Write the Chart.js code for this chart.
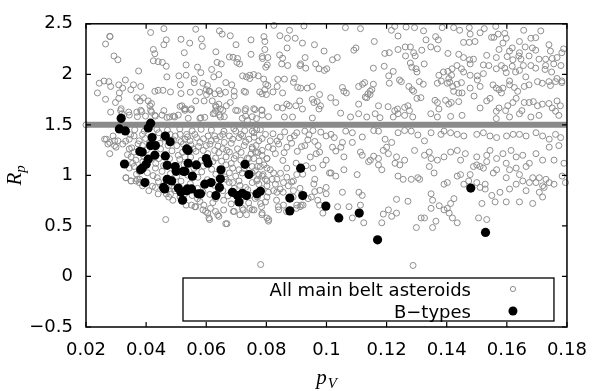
<!DOCTYPE html>
<html>
<head>
<meta charset="utf-8">
<script src="https://cdn.jsdelivr.net/npm/chart.js@4.4.0/dist/chart.umd.min.js"></script>
<style>
html,body{margin:0;padding:0;background:#fff;}
canvas{display:block;}
</style>
</head>
<body>
<canvas id="c" width="600" height="391"></canvas>
<script>
// ---- data (pV, Rp) ----
const xTicks = [0.02, 0.04, 0.06, 0.08, 0.10, 0.12, 0.14, 0.16, 0.18];
const xTickLabels = ['0.02','0.04','0.06','0.08','0.1','0.12','0.14','0.16','0.18'];
const yTicks = [-0.5, 0, 0.5, 1, 1.5, 2, 2.5];
const yTickLabels = ['\u22120.5','0','0.5','1','1.5','2','2.5'];
const legendLabels = ['All main belt asteroids', 'B\u2212types'];
const xTitle = ['p', 'V'];
const yTitle = ['R', 'p'];

// the dense row of main-belt asteroids sitting at Rp = 1.5
const bandRp = 1.5;
const bandPV = [0.02, 0.18];

const allAsteroids = [
[0.0415,2.414],[0.0459,2.452],[0.0565,2.446],[0.0644,2.43],[0.0653,2.398],[0.068,2.382],[0.0825,2.484],[0.0877,2.436],[0.0925,2.478],[0.028,2.373],[0.0265,2.30],[0.0467,2.341],[0.0459,2.293],[0.0516,2.347],[0.0545,2.309],[0.0584,2.35],[0.0699,2.293],[0.0749,2.341],[0.0792,2.373],[0.0795,2.325],[0.0845,2.382],[0.087,2.357],[0.0896,2.357],[0.092,2.309],[0.096,2.293],[0.0992,2.23],[0.0869,2.261],[0.0424,2.246],[0.0429,2.204],[0.0527,2.214],[0.0587,2.277],[0.0632,2.223],[0.0677,2.172],[0.0689,2.169],[0.0704,2.157],[0.0749,2.198],[0.0786,2.176],[0.0795,2.246],[0.0805,2.166],[0.0844,2.192],[0.0854,2.16],[0.0929,2.166],[0.0914,2.103],[0.0993,2.039],[0.0293,2.182],[0.0306,2.144],[0.0424,2.134],[0.044,2.125],[0.0454,2.118],[0.0467,2.08],[0.0533,2.093],[0.0571,2.071],[0.0582,2.017],[0.0618,2.048],[0.0636,2.118],[0.065,2.103],[0.0642,1.998],[0.0702,2.118],[0.0711,2.103],[0.0787,2.157],[0.0798,2.071],[0.0803,2.093],[0.0851,2.103],[0.0871,2.087],[0.0912,2.087],[0.0931,2.061],[0.0964,2.103],[0.0975,2.055],[0.0375,2.033],[0.0469,1.975],[0.0509,1.985],[0.0533,1.991],[0.056,1.953],[0.056,1.918],[0.0589,1.912],[0.0604,1.889],[0.06,1.848],[0.0609,1.832],[0.0625,1.975],[0.0665,1.918],[0.0685,1.896],[0.0693,1.832],[0.0721,1.985],[0.0734,1.975],[0.0745,1.991],[0.0758,1.998],[0.0773,1.985],[0.0745,1.959],[0.0791,1.953],[0.0798,1.902],[0.0805,1.889],[0.0838,1.95],[0.086,1.953],[0.0893,1.959],[0.089,1.921],[0.0914,1.864],[0.0936,1.864],[0.0953,1.88],[0.0977,1.80],[0.0244,1.912],[0.0238,1.816],[0.026,1.934],[0.0276,1.928],[0.0282,1.88],[0.0309,1.896],[0.0322,1.864],[0.0311,1.816],[0.0331,1.944],[0.0349,1.848],[0.0358,1.896],[0.0382,1.88],[0.0391,1.769],[0.0429,1.832],[0.044,1.842],[0.0456,1.842],[0.0481,1.826],[0.0514,1.896],[0.0516,1.81],[0.0547,1.823],[0.0578,1.823],[0.0601,1.80],[0.0612,1.832],[0.0629,1.807],[0.0642,1.839],[0.0647,1.807],[0.0664,1.823],[0.068,1.721],[0.0693,1.785],[0.0726,1.832],[0.0731,1.823],[0.0778,1.826],[0.0786,1.807],[0.0795,1.848],[0.08,1.80],[0.0822,1.826],[0.0836,1.88],[0.0854,1.816],[0.0904,1.87],[0.0868,1.705],[0.0898,1.689],[0.0911,1.737],[0.0953,1.753],[0.0958,1.721],[0.0969,1.73],[0.0975,1.657],[0.098,1.689],[0.0265,1.753],[0.0298,1.721],[0.0309,1.762],[0.0369,1.769],[0.038,1.737],[0.0407,1.737],[0.0413,1.689],[0.0418,1.711],[0.0459,1.641],[0.0519,1.689],[0.0527,1.657],[0.0549,1.648],[0.0565,1.737],[0.0593,1.737],[0.062,1.737],[0.0631,1.689],[0.0631,1.641],[0.0642,1.705],[0.0647,1.657],[0.0667,1.689],[0.0704,1.641],[0.0729,1.641],[0.0762,1.651],[0.0784,1.648],[0.0836,1.673],[0.0854,1.667],[0.0876,1.689],[0.092,1.657],[0.0282,1.626],[0.0315,1.641],[0.032,1.61],[0.0342,1.626],[0.0369,1.626],[0.0385,1.632],[0.0418,1.626],[0.0429,1.594],[0.0478,1.578],[0.0495,1.578],[0.0582,1.571],[0.0623,1.61],[0.0647,1.578],[0.0731,1.587],[0.0767,1.562],[0.086,1.578],[0.0887,1.578],[0.0953,1.568],
[0.1063,2.462],[0.1113,2.452],[0.1216,2.436],[0.1227,2.475],[0.1265,2.468],[0.1293,2.462],[0.1323,2.43],[0.1385,2.462],[0.1423,2.462],[0.1443,2.436],[0.1475,2.462],[0.1478,2.398],[0.1511,2.411],[0.1525,2.452],[0.1563,2.475],[0.1571,2.398],[0.1593,2.405],[0.1598,2.357],[0.1549,2.366],[0.1557,2.366],[0.1656,2.436],[0.1713,2.43],[0.168,2.357],[0.1696,2.363],[0.1642,2.325],[0.1661,2.271],[0.1685,2.261],[0.1159,2.325],[0.1238,2.379],[0.1331,2.341],[0.1363,2.373],[0.1372,2.341],[0.1347,2.271],[0.1369,2.252],[0.1456,2.316],[0.1475,2.316],[0.1494,2.325],[0.1587,2.309],[0.1574,2.246],[0.1609,2.23],[0.1618,2.261],[0.1642,2.214],[0.1696,2.239],[0.174,2.293],[0.1745,2.23],[0.1789,2.252],[0.102,2.144],[0.1036,2.166],[0.1091,2.239],[0.1098,2.261],[0.1194,2.207],[0.1209,2.214],[0.1238,2.246],[0.1262,2.271],[0.1279,2.271],[0.129,2.214],[0.1295,2.182],[0.1263,2.182],[0.1317,2.239],[0.1404,2.207],[0.144,2.198],[0.1456,2.166],[0.1476,2.144],[0.1489,2.15],[0.1533,2.188],[0.1565,2.166],[0.1601,2.176],[0.162,2.144],[0.164,2.182],[0.1647,2.15],[0.1674,2.182],[0.1707,2.15],[0.1729,2.15],[0.1751,2.157],[0.1767,2.166],[0.1783,2.214],[0.1001,2.055],[0.1156,2.061],[0.1192,2.08],[0.1222,2.029],[0.1207,1.985],[0.1279,2.112],[0.1284,2.071],[0.1298,2.055],[0.1301,2.023],[0.1243,1.944],[0.1325,2.103],[0.1374,1.991],[0.1389,2.023],[0.1404,2.029],[0.1407,1.959],[0.1416,1.991],[0.1418,2.055],[0.1434,2.087],[0.1449,2.055],[0.1478,2.103],[0.1456,2.023],[0.1478,1.991],[0.1502,1.985],[0.1522,2.093],[0.154,2.087],[0.1522,2.007],[0.1565,2.055],[0.1582,2.087],[0.1593,2.061],[0.1598,2.017],[0.1618,2.08],[0.1629,2.023],[0.1609,1.934],[0.1642,2.039],[0.1655,2.087],[0.168,2.087],[0.1696,2.061],[0.1663,1.975],[0.1729,2.087],[0.1727,2.048],[0.1749,2.023],[0.1756,2.103],[0.178,2.087],[0.1767,1.959],[0.1783,1.934],[0.1053,1.87],[0.1058,1.832],[0.1066,1.816],[0.1107,1.88],[0.112,1.902],[0.1127,1.918],[0.1156,1.902],[0.1151,1.848],[0.1145,1.832],[0.1138,1.807],[0.1129,1.775],[0.1209,1.912],[0.1249,1.928],[0.1274,1.88],[0.1285,1.848],[0.129,1.832],[0.1309,1.928],[0.1322,1.902],[0.1369,1.912],[0.1382,1.934],[0.1402,1.912],[0.141,1.921],[0.142,1.88],[0.1434,1.902],[0.1449,1.918],[0.1423,1.832],[0.144,1.816],[0.1451,1.816],[0.1478,1.864],[0.1502,1.944],[0.1511,1.88],[0.1554,1.896],[0.1565,1.864],[0.1574,1.848],[0.1587,1.864],[0.1582,1.816],[0.1609,1.896],[0.1625,1.87],[0.1636,1.832],[0.1658,1.88],[0.1674,1.896],[0.1702,1.928],[0.1718,1.912],[0.174,1.928],[0.1745,1.889],[0.1762,1.928],[0.1783,1.918],[0.1014,1.769],[0.1031,1.721],[0.1107,1.705],[0.1134,1.769],[0.1145,1.80],[0.1173,1.689],[0.1205,1.68],[0.1227,1.641],[0.1236,1.657],[0.126,1.673],[0.1271,1.689],[0.1276,1.641],[0.1301,1.762],[0.1314,1.769],[0.1361,1.743],[0.1369,1.721],[0.1374,1.657],[0.1396,1.743],[0.1407,1.705],[0.1415,1.721],[0.144,1.73],[0.1491,1.785],[0.1511,1.667],[0.1533,1.737],[0.1544,1.762],[0.1565,1.635],[0.1574,1.667],[0.1596,1.641],[0.1603,1.689],[0.162,1.721],[0.1631,1.762],[0.165,1.641],[0.1658,1.721],[0.1674,1.721],[0.1688,1.73],[0.1702,1.689],[0.1718,1.705],[0.174,1.711],[0.1751,1.667],[0.1767,1.737],[0.1778,1.689],[0.1762,1.635],[0.1047,1.616],[0.108,1.578],[0.1107,1.61],[0.1134,1.578],[0.1162,1.61],[0.1178,1.571],[0.1222,1.578],[0.1238,1.61],[0.126,1.594],[0.1287,1.578],[0.1347,1.61],[0.1369,1.578],[0.1413,1.584],[0.1451,1.594],[0.1565,1.562],[0.1609,1.578],[0.1642,1.61],[0.168,1.578],[0.1707,1.594],[0.1773,1.594],
[0.0759,1.422],[0.0846,1.38],[0.0879,1.368],[0.0901,1.422],[0.0928,1.438],[0.0955,1.444],[0.0999,1.39],[0.1015,1.406],[0.1026,1.374],[0.1053,1.326],[0.1064,1.438],[0.1086,1.422],[0.1119,1.38],[0.1157,1.444],[0.1173,1.438],[0.1195,1.358],[0.1217,1.326],[0.1238,1.422],[0.126,1.444],[0.1282,1.438],[0.1304,1.40],[0.1326,1.342],[0.1348,1.422],[0.1381,1.406],[0.1391,1.438],[0.1413,1.422],[0.1435,1.406],[0.1457,1.39],[0.15,1.406],[0.1522,1.422],[0.1544,1.39],[0.1566,1.374],[0.1599,1.39],[0.1621,1.406],[0.1642,1.406],[0.1664,1.39],[0.1697,1.422],[0.1719,1.39],[0.1741,1.358],[0.1762,1.406],[0.1779,1.374],[0.0753,1.279],[0.0764,1.231],[0.0742,1.167],[0.0802,1.167],[0.083,1.215],[0.0841,1.31],[0.0868,1.279],[0.0917,1.285],[0.0928,1.295],[0.0961,1.336],[0.0966,1.215],[0.0977,1.231],[0.0999,1.151],[0.102,1.279],[0.1031,1.241],[0.1048,1.279],[0.1058,1.183],[0.1086,1.326],[0.1113,1.231],[0.1119,1.199],[0.114,1.136],[0.1157,1.19],[0.1173,1.167],[0.1189,1.247],[0.12,1.279],[0.1206,1.215],[0.1228,1.12],[0.1233,1.183],[0.1244,1.104],[0.126,1.151],[0.1293,1.247],[0.1326,1.199],[0.1342,1.231],[0.1369,1.151],[0.1348,1.167],[0.1391,1.183],[0.1413,1.231],[0.1435,1.247],[0.1446,1.151],[0.1462,1.215],[0.15,1.183],[0.1533,1.199],[0.1544,1.247],[0.1566,1.167],[0.1587,1.215],[0.1598,1.12],[0.1614,1.247],[0.1631,1.183],[0.1653,1.199],[0.1675,1.12],[0.1697,1.215],[0.1719,1.151],[0.1741,1.279],[0.1757,1.151],[0.1773,1.295],[0.179,1.12],[0.077,1.088],[0.0792,1.104],[0.0813,1.056],[0.0824,1.024],[0.0868,1.072],[0.089,0.945],[0.0901,1.008],[0.0955,1.072],[0.0961,0.961],[0.0988,1.104],[0.101,1.024],[0.1031,0.993],[0.1058,1.056],[0.1102,1.008],[0.1146,1.151],[0.1173,1.104],[0.1184,1.056],[0.1238,0.993],[0.1255,0.961],[0.1282,0.961],[0.1304,0.977],[0.1342,1.088],[0.1358,1.024],[0.1391,0.913],[0.1402,0.929],[0.1435,0.993],[0.1446,1.008],[0.1478,1.008],[0.1489,1.088],[0.15,1.104],[0.1511,1.088],[0.1522,1.072],[0.1533,1.136],[0.1555,1.024],[0.1566,1.056],[0.1598,0.977],[0.1609,1.056],[0.1631,1.072],[0.1642,1.008],[0.1653,0.945],[0.1664,1.088],[0.1686,0.977],[0.1697,0.929],[0.1708,0.977],[0.173,0.961],[0.1741,0.929],[0.1757,0.913],[0.1784,0.993],[0.1795,0.929],[0.0753,1.024],[0.077,0.961],[0.0786,0.993],[0.0802,0.945],[0.0819,0.961],[0.083,0.913],[0.0835,0.961],[0.0857,0.929],[0.0873,0.897],[0.0884,0.935],[0.089,0.849],[0.0846,0.865],[0.0824,0.849],[0.0802,0.786],[0.0797,0.738],[0.077,0.786],[0.0781,0.722],[0.0759,0.659],[0.0786,0.627],[0.0808,0.563],[0.0835,0.833],[0.0841,0.659],[0.0857,0.706],[0.0901,0.706],[0.0912,0.69],[0.0922,0.706],[0.0939,0.77],[0.095,0.786],[0.0961,0.84],[0.0977,0.706],[0.0971,0.754],[0.0988,0.627],[0.0999,0.881],[0.0999,0.818],[0.1015,1.024],[0.1037,0.69],[0.1053,0.833],[0.1075,0.69],[0.1086,0.579],[0.1108,0.833],[0.1113,0.706],[0.1119,0.802],[0.1124,0.531],[0.1184,0.531],[0.1189,0.617],[0.1206,0.659],[0.1217,0.595],[0.1233,0.627],[0.1233,0.763],[0.1271,0.744],[0.131,0.961],[0.1315,0.579],[0.1326,0.579],[0.1348,0.818],[0.1353,0.754],[0.1348,0.674],[0.1364,0.547],[0.1375,0.70],[0.1391,0.659],[0.1402,0.674],[0.1408,0.627],[0.1413,0.722],[0.1424,0.77],[0.1435,0.531],[0.1419,0.579],[0.1299,0.484],[0.1353,0.484],[0.1457,0.913],[0.1473,0.945],[0.15,0.929],[0.1511,0.881],[0.1528,0.913],[0.1528,0.865],[0.155,0.802],[0.1561,0.738],[0.1577,0.833],[0.1598,0.738],[0.1609,0.865],[0.1631,0.913],[0.1642,0.738],[0.1664,0.849],[0.1675,0.929],[0.1686,0.722],[0.1708,0.833],[0.1719,0.897],[0.1719,0.786],[0.1724,0.881],[0.1506,0.579],[0.1533,0.563],[0.1517,0.722],[0.0781,0.118],[0.1288,0.109],
[0.0317,1.66],[0.0382,1.644],[0.0415,1.644],[0.0513,1.683],[0.0529,1.644],[0.0344,1.597],[0.0371,1.581],[0.0398,1.587],[0.0431,1.587],[0.0453,1.597],[0.0469,1.574],[0.0491,1.587],[0.0507,1.597],[0.054,1.565],[0.029,1.39],[0.0306,1.342],[0.0295,1.295],[0.0322,1.31],[0.0344,1.358],[0.036,1.39],[0.0377,1.342],[0.0388,1.406],[0.0398,1.365],[0.0442,1.422],[0.048,1.406],[0.0497,1.39],[0.0513,1.406],[0.0529,1.358],[0.0344,1.263],[0.036,1.231],[0.0388,1.295],[0.0502,1.295],[0.0524,1.31],[0.0507,1.199],[0.0529,1.183],[0.0442,1.167],[0.0366,1.151],[0.035,1.183],[0.0344,1.072],[0.036,1.088],[0.0377,1.04],[0.0431,1.072],[0.0453,1.04],[0.0437,0.977],[0.0333,0.977],[0.035,0.945],[0.0366,0.945],[0.0388,0.897],[0.0409,0.849],[0.0431,0.881],[0.0486,0.897],[0.0497,0.849],[0.0529,0.818],[0.0475,0.786],[0.0513,0.786],
[0.053,1.66],[0.0551,1.66],[0.0633,1.676],[0.0655,1.644],[0.0698,1.644],[0.0731,1.66],[0.0758,1.66],[0.0786,1.644],[0.0579,1.565],[0.0595,1.574],[0.0628,1.613],[0.0644,1.597],[0.066,1.581],[0.072,1.565],[0.0753,1.581],[0.0786,1.597],[0.0807,1.581],[0.0737,1.543],[0.0535,1.406],[0.0568,1.374],[0.0606,1.39],[0.0628,1.39],[0.0655,1.406],[0.0677,1.39],[0.0698,1.438],[0.0715,1.406],[0.0753,1.438],[0.078,1.454],[0.0797,1.406],[0.0546,1.342],[0.0579,1.326],[0.06,1.295],[0.0617,1.342],[0.0633,1.358],[0.066,1.326],[0.0688,1.358],[0.0709,1.374],[0.0742,1.358],[0.0775,1.342],[0.0813,1.342],[0.0557,1.263],[0.059,1.247],[0.0628,1.247],[0.0655,1.263],[0.0677,1.231],[0.0704,1.263],[0.0726,1.295],[0.0753,1.263],[0.0786,1.247],[0.0807,1.279],[0.0666,1.183],[0.0693,1.167],[0.0715,1.151],[0.0758,1.167],[0.0786,1.199],[0.0802,1.167],[0.0622,1.136],[0.0666,1.104],[0.0688,1.072],[0.0709,1.056],[0.0753,1.088],[0.078,1.088],[0.0802,1.072],[0.0677,1.024],[0.0698,0.993],[0.072,1.024],[0.0775,1.008],[0.0797,0.961],[0.0666,0.961],[0.0688,0.929],[0.0709,0.945],[0.0753,0.929],[0.0731,0.881],[0.0775,0.913],[0.0802,0.897],[0.0655,0.849],[0.0747,0.802],[0.0807,0.833],
[0.0551,0.706],[0.0562,0.69],[0.0589,0.659],[0.0605,0.627],[0.0611,0.563],[0.0638,0.611],[0.0665,0.522],[0.0693,0.643],[0.072,0.674],[0.0753,0.659],[0.0785,0.611],[0.0802,0.579],[0.0807,0.547],[0.084,0.69],[0.0867,0.643],[0.09,0.674],[0.0916,0.706],[0.0834,0.754],[0.0856,0.833],[0.0889,0.786],
[0.044,0.817],[0.0467,0.817],[0.0489,0.754],[0.0533,0.706],[0.0565,0.69],[0.0592,0.706],[0.0598,0.643],[0.0609,0.579],[0.0614,0.674],[0.0631,0.643],[0.0642,0.595],[0.0658,0.659],[0.0669,0.522],[0.069,0.643],[0.0712,0.611],[0.0734,0.611],[0.0723,0.659],[0.0465,0.563],[0.0745,0.674],[0.0631,0.77],[0.0571,0.77],[0.0658,0.754],
[0.0279,2.376],[0.0273,1.31],[0.0295,1.342],[0.030,1.279],[0.0279,1.215],[0.0268,1.358],[0.0333,0.976],[0.035,0.945],[0.0371,0.961],[0.0262,1.358],[0.0279,1.326],[0.0377,0.929],[0.02,1.5],
[0.0362,1.452],[0.0394,1.438],[0.0436,1.455],[0.0471,1.447],[0.0512,1.46],[0.0553,1.441],[0.0583,1.456],[0.0617,1.449],[0.0659,1.437],[0.0692,1.461],[0.0728,1.443],[0.0768,1.452],
[0.0348,1.402],[0.0421,1.389],[0.0457,1.371],[0.0491,1.352],[0.0538,1.381],[0.0562,1.405],[0.0591,1.362],[0.0646,1.384],[0.0721,1.392],[0.0759,1.378],[0.0786,1.365],
[0.0332,1.338],[0.0373,1.312],[0.0412,1.327],[0.0446,1.318],[0.0473,1.297],[0.0516,1.335],[0.0549,1.302],[0.0574,1.286],[0.0612,1.309],[0.0639,1.291],[0.0683,1.318],[0.0731,1.331],[0.0766,1.296],
[0.0352,1.272],[0.0401,1.251],[0.0448,1.262],[0.0486,1.243],[0.0521,1.228],[0.0566,1.238],[0.0605,1.215],[0.0642,1.226],[0.0668,1.248],[0.0716,1.228],[0.0749,1.212],[0.0772,1.226],
[0.0338,1.205],[0.0392,1.188],[0.0418,1.172],[0.0478,1.166],[0.0512,1.158],[0.0548,1.181],[0.0583,1.149],[0.0631,1.172],[0.0651,1.141],[0.0698,1.196],[0.0737,1.171],[0.0776,1.142],
[0.0355,1.121],[0.0389,1.134],[0.0432,1.118],[0.0458,1.097],[0.0526,1.108],[0.0559,1.071],[0.0591,1.092],[0.0618,1.061],[0.0683,1.118],[0.0726,1.069],[0.0763,1.048],
[0.0368,1.012],[0.0404,1.027],[0.0423,0.998],[0.0481,1.018],[0.0502,0.991],[0.0538,1.003],[0.0572,0.981],[0.0585,1.035],[0.0632,1.011],[0.0661,0.985],[0.0744,1.021],[0.0789,1.008],
[0.0379,0.962],[0.0441,0.938],[0.0467,0.922],[0.0516,0.943],[0.0547,0.918],[0.0604,0.958],[0.0627,0.902],[0.0676,0.931],[0.0712,0.901],[0.0768,0.945],
[0.0421,0.892],[0.0459,0.858],[0.0492,0.871],[0.0528,0.855],[0.0571,0.872],[0.0589,0.836],[0.0641,0.862],[0.0693,0.872],[0.0738,0.858],[0.0786,0.868],
[0.0481,0.813],[0.0553,0.801],[0.0612,0.812],[0.0672,0.797],[0.0718,0.781],[0.0763,0.772],
[0.0526,0.758],[0.0579,0.742],[0.0622,0.731],[0.0683,0.718],[0.0741,0.728],[0.0784,0.691],
[0.0822,1.412],[0.0861,1.431],[0.0893,1.392],[0.0942,1.401],[0.0981,1.428],[0.0836,1.341],[0.0884,1.318],[0.0938,1.352],[0.0972,1.296],[0.0822,1.262],[0.0859,1.225],[0.0903,1.238],[0.0946,1.182],[0.0855,1.148],[0.0899,1.121],[0.0932,1.096],[0.0847,1.021],[0.0921,1.012],[0.0868,0.982],[0.0958,0.915],[0.0912,0.872],[0.0978,0.852]
];

const bTypes = [
[0.0317,1.565],[0.0311,1.46],[0.0331,1.44],[0.0328,1.113],[0.0415,1.517],[0.0407,1.47],[0.042,1.374],[0.0415,1.295],[0.0431,1.295],[0.0464,1.39],[0.048,1.333],[0.0379,1.237],[0.0387,1.231],[0.0429,1.20],[0.0464,1.193],[0.0407,1.161],[0.040,1.11],[0.0387,1.071],[0.0382,1.056],[0.047,1.10],[0.0497,1.088],[0.0535,1.262],[0.054,1.247],[0.050,1.04],[0.0524,1.04],[0.047,0.961],[0.0458,0.881],[0.0485,0.945],[0.0507,0.875],[0.0396,0.929],[0.0535,0.849],[0.054,1.12],[0.0567,1.104],[0.060,1.167],[0.0606,1.12],[0.0529,1.04],[0.0554,0.992],[0.0595,0.913],[0.0616,0.929],[0.0644,0.881],[0.0649,1.056],[0.0647,0.967],[0.0729,1.11],[0.0742,1.009],[0.0537,0.866],[0.0573,0.818],[0.0581,0.818],[0.0551,0.866],[0.0687,0.833],[0.0704,0.80],[0.072,0.823],[0.078,0.843],[0.0632,0.80],[0.0709,0.738],[0.0734,0.80],[0.0769,0.818],[0.0878,0.776],[0.0878,0.649],[0.0914,1.071],[0.0921,0.80],[0.0998,0.696],[0.1041,0.579],[0.1109,0.627],[0.117,0.363],[0.148,0.875],[0.1529,0.436],[0.0462,0.866],[0.0521,0.754],[0.0516,0.833]
];

// ---- styles ----
const GREY = '#8e8e8e';
const TICK_FONT = {family: '"DejaVu Sans", sans-serif', size: 18};

const toXY = arr => arr.map(p => ({x: p[0], y: p[1]}));

const framePlugin = {
  id: 'frame',
  afterDraw(chart) {
    const {ctx, chartArea: a, scales: {x, y}} = chart;
    ctx.save();
    ctx.strokeStyle = '#000';
    ctx.lineWidth = 1.5;
    ctx.strokeRect(a.left, a.top, a.right - a.left, a.bottom - a.top);
    ctx.lineWidth = 1.2;
    const L = 5;
    ctx.beginPath();
    xTicks.forEach(v => {
      const px = x.getPixelForValue(v);
      ctx.moveTo(px, a.bottom); ctx.lineTo(px, a.bottom - L);
      ctx.moveTo(px, a.top); ctx.lineTo(px, a.top + L);
    });
    yTicks.forEach(v => {
      const py = y.getPixelForValue(v);
      ctx.moveTo(a.left, py); ctx.lineTo(a.left + L, py);
      ctx.moveTo(a.right, py); ctx.lineTo(a.right - L, py);
    });
    ctx.stroke();

    // legend box
    const bl = a.left + 97, br = a.right - 13, bt = a.bottom - 49, bb = a.bottom - 6;
    ctx.fillStyle = '#fff';
    ctx.fillRect(bl, bt, br - bl, bb - bt);
    ctx.lineWidth = 1.3;
    ctx.strokeStyle = '#000';
    ctx.strokeRect(bl, bt, br - bl, bb - bt);
    ctx.font = '18px "DejaVu Sans", sans-serif';
    ctx.fillStyle = '#000';
    ctx.textAlign = 'right';
    ctx.textBaseline = 'alphabetic';
    const tx = a.right - 96;
    const sx = a.right - 54;
    ctx.fillText(legendLabels[0], tx, bt + 18);
    ctx.fillText(legendLabels[1], tx, bt + 40);
    ctx.beginPath();
    ctx.lineWidth = 1;
    ctx.strokeStyle = GREY;
    ctx.arc(sx, bt + 11, 2.6, 0, Math.PI * 2);
    ctx.stroke();
    ctx.beginPath();
    ctx.fillStyle = '#000';
    ctx.arc(sx, bt + 33, 4.5, 0, Math.PI * 2);
    ctx.fill();

    // axis titles with subscripts
    ctx.fillStyle = '#000';
    ctx.textAlign = 'left';
    ctx.textBaseline = 'alphabetic';
    const mainF = 'italic 21px "Liberation Serif", "DejaVu Serif", serif';
    const subF = 'italic 15px "Liberation Serif", "DejaVu Serif", serif';
    ctx.font = mainF;
    const wp = ctx.measureText(xTitle[0]).width;
    ctx.font = subF;
    const wv = ctx.measureText(xTitle[1]).width;
    const cx = (a.left + a.right) / 2;
    const x0 = cx - (wp + wv + 1) / 2;
    ctx.font = mainF;
    ctx.fillText(xTitle[0], x0, 384);
    ctx.font = subF;
    ctx.fillText(xTitle[1], x0 + wp + 1, 388);
    ctx.save();
    ctx.translate(21, (a.top + a.bottom) / 2);
    ctx.rotate(-Math.PI / 2);
    ctx.font = mainF;
    const wr = ctx.measureText(yTitle[0]).width;
    ctx.font = subF;
    const wsub = ctx.measureText(yTitle[1]).width;
    const y0 = -(wr + wsub) / 2;
    ctx.font = mainF;
    ctx.fillText(yTitle[0], y0, 0);
    ctx.font = subF;
    ctx.fillText(yTitle[1], y0 + wr, 4);
    ctx.restore();

    ctx.restore();
  }
};

new Chart(document.getElementById('c'), {
  type: 'scatter',
  data: {
    datasets: [
      {
        label: legendLabels[1],
        data: toXY(bTypes),
        pointRadius: 4.6,
        pointHoverRadius: 4.6,
        backgroundColor: '#000',
        borderWidth: 0,
        order: 0,
        clip: false
      },
      {
        label: 'Rp = 1.5',
        data: bandPV.map(v => ({x: v, y: bandRp})),
        showLine: true,
        borderColor: '#8a8a8a',
        borderWidth: 6,
        pointRadius: 0,
        order: 1
      },
      {
        label: legendLabels[0],
        data: toXY(allAsteroids),
        pointRadius: 3,
        pointHoverRadius: 3,
        borderColor: GREY,
        backgroundColor: 'rgba(0,0,0,0)',
        borderWidth: 1,
        order: 2,
        clip: false
      }
    ]
  },
  options: {
    responsive: false,
    animation: false,
    devicePixelRatio: 1,
    layout: {padding: {left: 0, right: 25, top: 12, bottom: 0}},
    plugins: {legend: {display: false}, tooltip: {enabled: false}},
    events: [],
    scales: {
      x: {
        type: 'linear',
        min: 0.02, max: 0.18,
        grid: {display: false, drawTicks: false},
        border: {display: false},
        afterBuildTicks: s => { s.ticks = xTicks.map(v => ({value: v})); },
        afterFit: s => { s.height = 64; },
        ticks: {
          color: '#000',
          font: TICK_FONT,
          padding: 13,
          maxRotation: 0,
          autoSkip: false,
          callback: (v, i) => xTickLabels[i]
        }
      },
      y: {
        type: 'linear',
        min: -0.5, max: 2.5,
        grid: {display: false, drawTicks: false},
        border: {display: false},
        afterBuildTicks: s => { s.ticks = yTicks.map(v => ({value: v})); },
        afterFit: s => { s.width = 86; },
        ticks: {
          color: '#000',
          font: TICK_FONT,
          padding: 13,
          autoSkip: false,
          callback: (v, i) => yTickLabels[i]
        }
      }
    }
  },
  plugins: [framePlugin]
});
</script>
</body>
</html>
